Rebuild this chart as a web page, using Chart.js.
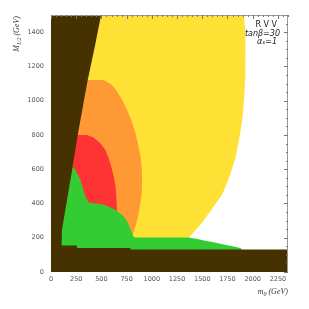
<!DOCTYPE html>
<html>
<head>
<meta charset="utf-8">
<script src="https://cdn.jsdelivr.net/npm/chart.js@4"></script>
<style>
  html, body { margin: 0; padding: 0; background: #fff; }
  #wrap { width: 309px; height: 309px; }
</style>
</head>
<body>
<div id="wrap"><canvas id="plot"></canvas></div>
<script>
// axis ranges and tick labels
const m0Range = [0, 2350];
const m12Range = [0, 1500];
const m0Ticks = [0, 250, 500, 750, 1000, 1250, 1500, 1750, 2000, 2250];
const m12Ticks = [0, 200, 400, 600, 800, 1000, 1200, 1400];

// region outlines, m0 (GeV) / M1/2 (GeV)
const yellowM0 = [400, 1911, 1928, 1930, 1925, 1914, 1895, 1864, 1830, 1781, 1740, 1696, 1613, 1550, 1481, 1420, 1365, 1365, 100];
const yellowM12 = [1500, 1500, 1400, 1295, 1150, 1004, 880, 771, 670, 577, 510, 451, 383, 330, 276, 235, 202, 190, 190];

const orangeM0 = [200, 364, 523, 600, 656, 710, 755, 800, 838, 865, 887, 900, 904, 900, 887, 865, 838, 815, 812, 100];
const orangeM12 = [1120, 1120, 1120, 1095, 1053, 1000, 946, 880, 810, 740, 674, 600, 538, 470, 402, 330, 266, 227, 190, 190];

const redM0 = [150, 264, 300, 357, 420, 489, 540, 571, 600, 621, 640, 648, 652, 655, 150];
const redM12 = [800, 800, 800, 800, 785, 752, 710, 665, 610, 557, 500, 441, 380, 330, 330];

const greenM0 = [60, 60, 180, 224, 260, 291, 320, 340, 373, 450, 522, 580, 638, 690, 720, 750, 770, 790, 803, 815, 830, 1365, 1450, 1530, 1613, 1700, 1800, 1878, 1900, 60];
const greenM12 = [125, 300, 600, 612, 575, 538, 480, 441, 406, 400, 392, 380, 363, 340, 324, 300, 276, 250, 227, 210, 202, 202, 192, 183, 173, 162, 150, 140, 125, 125];

const excludedM0 = [0, 0, 497, 434, 364, 265, 209, 159, 109, 105, 258, 258, 787, 787, 2350, 2350];
const excludedM12 = [0, 1500, 1500, 1315, 1120, 800, 596, 421, 247, 155, 155, 140, 140, 132, 132, 0];

const regionColors = {
  excluded: "#463200",
  green: "#33cc33",
  red: "#ff3333",
  orange: "#ff9933",
  yellow: "#ffe135",
};

function pts(xs, ys) {
  return xs.map((x, i) => ({ x: x, y: ys[i] }));
}

function region(xs, ys, color, order) {
  return {
    data: pts(xs, ys),
    showLine: true,
    fill: "shape",
    backgroundColor: color,
    borderColor: color,
    borderWidth: 0,
    pointRadius: 0,
    tension: 0,
    order: order,
  };
}

const TICK_FONT = "DejaVu Sans";

// frame, small inner ticks, titles and the label box
const decorations = {
  id: "decorations",
  afterDraw(chart) {
    const ctx = chart.ctx;
    const a = chart.chartArea;
    const xs = chart.scales.x;
    const ys = chart.scales.y;
    ctx.save();
    ctx.strokeStyle = "#9a9a9a";
    ctx.lineWidth = 1;
    ctx.beginPath();
    ctx.moveTo(a.left, a.top + 0.5);
    ctx.lineTo(a.right - 0.5, a.top + 0.5);
    ctx.lineTo(a.right - 0.5, a.bottom);
    ctx.stroke();

    ctx.strokeStyle = "#777";
    ctx.beginPath();
    for (let v = 0; v <= m0Range[1]; v += 50) {
      const px = Math.round(xs.getPixelForValue(v)) + 0.5;
      const len = v % 250 === 0 ? 4 : 2;
      ctx.moveTo(px, a.top);
      ctx.lineTo(px, a.top + len);
    }
    for (let v = 0; v <= m12Range[1]; v += 50) {
      const py = Math.round(ys.getPixelForValue(v)) + 0.5;
      const len = v % 200 === 0 ? 4 : 2;
      ctx.moveTo(a.right, py);
      ctx.lineTo(a.right - len, py);
    }
    ctx.stroke();

    ctx.fillStyle = "#333";
    ctx.textBaseline = "middle";

    // x title: m0 (GeV)
    ctx.textAlign = "left";
    let x = a.right;
    const parts = [["m", 8, 0], ["0", 6, 2], [" (GeV)", 8, 0]];
    let w = 0;
    parts.forEach((p) => { ctx.font = "italic " + p[1] + "px 'Liberation Serif'"; w += ctx.measureText(p[0]).width; });
    x = a.right - w;
    parts.forEach((p) => {
      ctx.font = "italic " + p[1] + "px 'Liberation Serif'";
      ctx.fillText(p[0], x, 292 + p[2]);
      x += ctx.measureText(p[0]).width;
    });

    // y title: M1/2 (GeV), rotated
    ctx.save();
    ctx.translate(17, a.top);
    ctx.rotate(-Math.PI / 2);
    const yparts = [["M", 8, 0], ["1/2", 6, 2], [" (GeV)", 8, 0]];
    w = 0;
    yparts.forEach((p) => { ctx.font = "italic " + p[1] + "px 'Liberation Serif'"; w += ctx.measureText(p[0]).width; });
    x = -w - 1;
    yparts.forEach((p) => {
      ctx.font = "italic " + p[1] + "px 'Liberation Serif'";
      ctx.fillText(p[0], x, p[2]);
      x += ctx.measureText(p[0]).width;
    });
    ctx.restore();

    // label box
    ctx.fillStyle = "#222";
    ctx.textAlign = "right";
    ctx.font = "8px 'DejaVu Sans'";
    ctx.fillText("R V V", 277, 25);
    ctx.font = "italic 8px 'DejaVu Sans'";
    ctx.fillText("tanβ=30", 280, 33.5);
    ctx.fillText("αₛ=1", 277, 42);
    ctx.restore();
  },
};

new Chart(document.getElementById("plot"), {
  type: "scatter",
  data: {
    datasets: [
      region(excludedM0, excludedM12, regionColors.excluded, 0),
      region(greenM0, greenM12, regionColors.green, 1),
      region(redM0, redM12, regionColors.red, 2),
      region(orangeM0, orangeM12, regionColors.orange, 3),
      region(yellowM0, yellowM12, regionColors.yellow, 4),
    ],
  },
  options: {
    responsive: true,
    maintainAspectRatio: false,
    animation: false,
    layout: { padding: { top: 15, right: 21, left: 0, bottom: 0 } },
    plugins: {
      legend: { display: false },
      tooltip: { enabled: false },
    },
    scales: {
      x: {
        type: "linear",
        min: m0Range[0],
        max: m0Range[1],
        afterBuildTicks: (s) => { s.ticks = m0Ticks.map((v) => ({ value: v })); },
        afterFit: (s) => { s.height = 37; },
        grid: { display: false, drawTicks: false },
        border: { display: false },
        ticks: {
          padding: 3,
          maxRotation: 0,
          autoSkip: false,
          color: "#555",
          font: { family: TICK_FONT, size: 6.5 },
          callback: (v) => String(v),
        },
      },
      y: {
        type: "linear",
        min: m12Range[0],
        max: m12Range[1],
        afterBuildTicks: (s) => { s.ticks = m12Ticks.map((v) => ({ value: v })); },
        afterFit: (s) => { s.width = 51; },
        grid: { display: false, drawTicks: false },
        border: { display: false },
        ticks: {
          padding: 7,
          autoSkip: false,
          color: "#555",
          font: { family: TICK_FONT, size: 6.5 },
          callback: (v) => String(v),
        },
      },
    },
  },
  plugins: [decorations],
});
</script>
</body>
</html>
